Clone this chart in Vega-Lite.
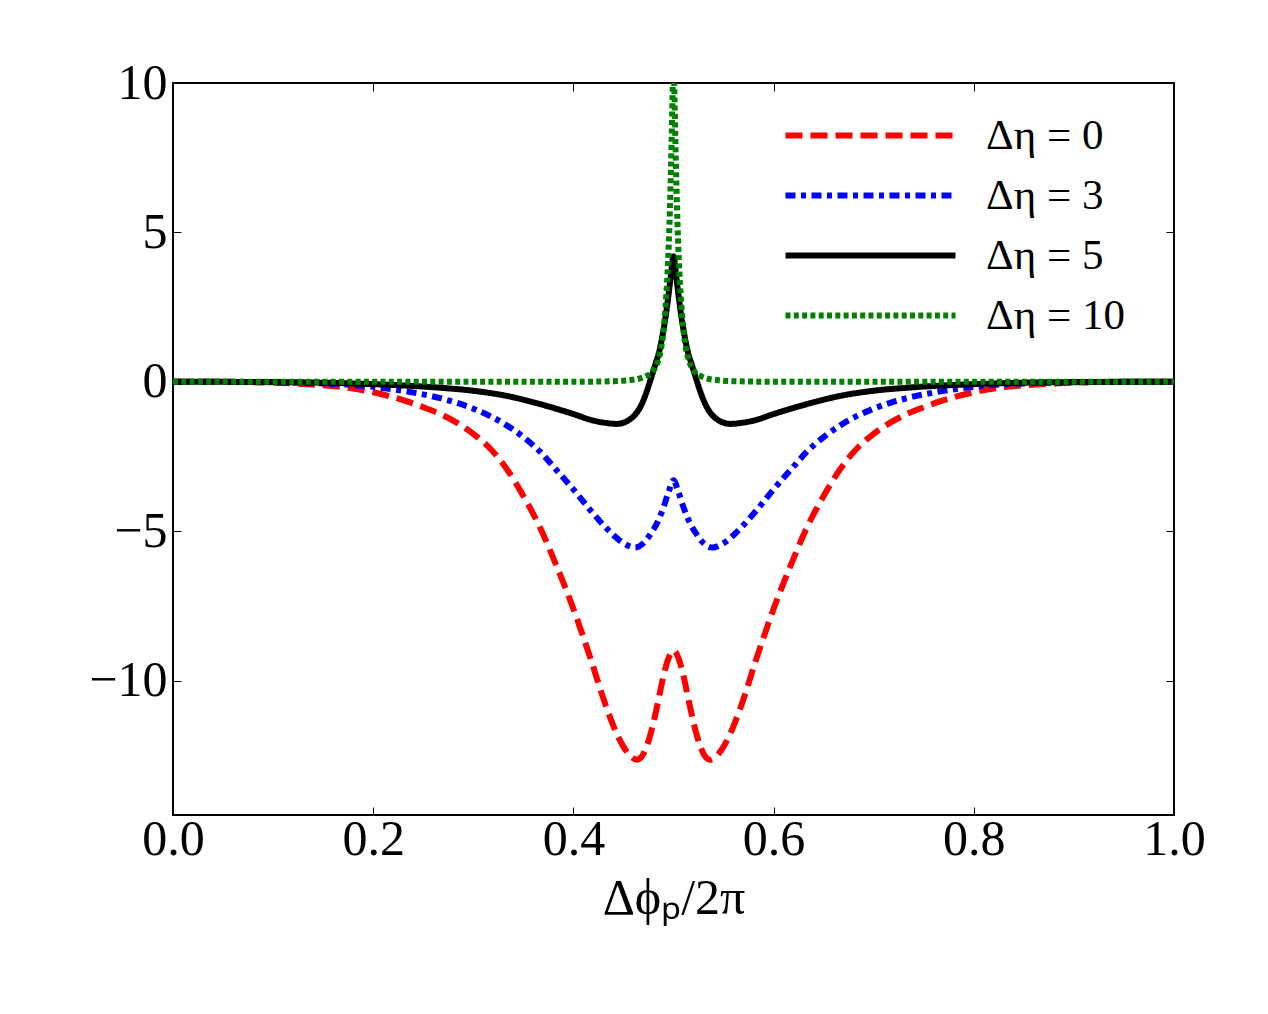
{
  "$schema": "https://vega.github.io/schema/vega-lite/v6.json",
  "width": 1001,
  "height": 732,
  "autosize": "none",
  "padding": {"left": 173, "top": 83, "right": 94, "bottom": 199},
  "background": "white",
  "config": {
    "view": {"stroke": "black", "strokeWidth": 2},
    "font": "Liberation Serif"
  },
  "datasets": {
    "curves": [
      {"x": 0.0, "y": 0, "s": "Δη = 0"},
      {"x": 0.05, "y": 0, "s": "Δη = 0"},
      {"x": 0.1, "y": -0.03, "s": "Δη = 0"},
      {"x": 0.133, "y": -0.08, "s": "Δη = 0"},
      {"x": 0.167, "y": -0.17, "s": "Δη = 0"},
      {"x": 0.2, "y": -0.35, "s": "Δη = 0"},
      {"x": 0.233, "y": -0.65, "s": "Δη = 0"},
      {"x": 0.25, "y": -0.85, "s": "Δη = 0"},
      {"x": 0.267, "y": -1.08, "s": "Δη = 0"},
      {"x": 0.283, "y": -1.36, "s": "Δη = 0"},
      {"x": 0.3, "y": -1.74, "s": "Δη = 0"},
      {"x": 0.317, "y": -2.24, "s": "Δη = 0"},
      {"x": 0.333, "y": -2.9, "s": "Δη = 0"},
      {"x": 0.35, "y": -3.82, "s": "Δη = 0"},
      {"x": 0.367, "y": -4.9, "s": "Δη = 0"},
      {"x": 0.383, "y": -6.15, "s": "Δη = 0"},
      {"x": 0.4, "y": -7.6, "s": "Δη = 0"},
      {"x": 0.417, "y": -9.25, "s": "Δη = 0"},
      {"x": 0.433, "y": -10.9, "s": "Δη = 0"},
      {"x": 0.445, "y": -11.9, "s": "Δη = 0"},
      {"x": 0.455, "y": -12.45, "s": "Δη = 0"},
      {"x": 0.4635, "y": -12.65, "s": "Δη = 0"},
      {"x": 0.47, "y": -12.45, "s": "Δη = 0"},
      {"x": 0.477, "y": -11.8, "s": "Δη = 0"},
      {"x": 0.484, "y": -10.8, "s": "Δη = 0"},
      {"x": 0.49, "y": -9.85, "s": "Δη = 0"},
      {"x": 0.495, "y": -9.25, "s": "Δη = 0"},
      {"x": 0.5, "y": -9.0, "s": "Δη = 0"},
      {"x": 0.505, "y": -9.25, "s": "Δη = 0"},
      {"x": 0.51, "y": -9.85, "s": "Δη = 0"},
      {"x": 0.516, "y": -10.8, "s": "Δη = 0"},
      {"x": 0.523, "y": -11.8, "s": "Δη = 0"},
      {"x": 0.53, "y": -12.45, "s": "Δη = 0"},
      {"x": 0.5365, "y": -12.65, "s": "Δη = 0"},
      {"x": 0.545, "y": -12.45, "s": "Δη = 0"},
      {"x": 0.555, "y": -11.9, "s": "Δη = 0"},
      {"x": 0.567, "y": -10.9, "s": "Δη = 0"},
      {"x": 0.583, "y": -9.25, "s": "Δη = 0"},
      {"x": 0.6, "y": -7.6, "s": "Δη = 0"},
      {"x": 0.617, "y": -6.15, "s": "Δη = 0"},
      {"x": 0.633, "y": -4.9, "s": "Δη = 0"},
      {"x": 0.65, "y": -3.82, "s": "Δη = 0"},
      {"x": 0.667, "y": -2.9, "s": "Δη = 0"},
      {"x": 0.683, "y": -2.24, "s": "Δη = 0"},
      {"x": 0.7, "y": -1.74, "s": "Δη = 0"},
      {"x": 0.717, "y": -1.36, "s": "Δη = 0"},
      {"x": 0.733, "y": -1.08, "s": "Δη = 0"},
      {"x": 0.75, "y": -0.85, "s": "Δη = 0"},
      {"x": 0.767, "y": -0.65, "s": "Δη = 0"},
      {"x": 0.8, "y": -0.35, "s": "Δη = 0"},
      {"x": 0.833, "y": -0.17, "s": "Δη = 0"},
      {"x": 0.867, "y": -0.08, "s": "Δη = 0"},
      {"x": 0.9, "y": -0.03, "s": "Δη = 0"},
      {"x": 0.95, "y": 0, "s": "Δη = 0"},
      {"x": 1.0, "y": 0, "s": "Δη = 0"},

      {"x": 0.0, "y": 0, "s": "Δη = 3"},
      {"x": 0.05, "y": 0, "s": "Δη = 3"},
      {"x": 0.1, "y": -0.02, "s": "Δη = 3"},
      {"x": 0.167, "y": -0.08, "s": "Δη = 3"},
      {"x": 0.2, "y": -0.17, "s": "Δη = 3"},
      {"x": 0.233, "y": -0.32, "s": "Δη = 3"},
      {"x": 0.267, "y": -0.55, "s": "Δη = 3"},
      {"x": 0.3, "y": -0.9, "s": "Δη = 3"},
      {"x": 0.333, "y": -1.45, "s": "Δη = 3"},
      {"x": 0.35, "y": -1.85, "s": "Δη = 3"},
      {"x": 0.367, "y": -2.35, "s": "Δη = 3"},
      {"x": 0.383, "y": -2.95, "s": "Δη = 3"},
      {"x": 0.4, "y": -3.6, "s": "Δη = 3"},
      {"x": 0.417, "y": -4.3, "s": "Δη = 3"},
      {"x": 0.433, "y": -4.9, "s": "Δη = 3"},
      {"x": 0.45, "y": -5.4, "s": "Δη = 3"},
      {"x": 0.4615, "y": -5.55, "s": "Δη = 3"},
      {"x": 0.47, "y": -5.4, "s": "Δη = 3"},
      {"x": 0.477, "y": -5.1, "s": "Δη = 3"},
      {"x": 0.484, "y": -4.7, "s": "Δη = 3"},
      {"x": 0.49, "y": -4.2, "s": "Δη = 3"},
      {"x": 0.495, "y": -3.7, "s": "Δη = 3"},
      {"x": 0.5, "y": -3.3, "s": "Δη = 3"},
      {"x": 0.505, "y": -3.7, "s": "Δη = 3"},
      {"x": 0.51, "y": -4.2, "s": "Δη = 3"},
      {"x": 0.516, "y": -4.7, "s": "Δη = 3"},
      {"x": 0.523, "y": -5.1, "s": "Δη = 3"},
      {"x": 0.53, "y": -5.4, "s": "Δη = 3"},
      {"x": 0.5385, "y": -5.55, "s": "Δη = 3"},
      {"x": 0.55, "y": -5.4, "s": "Δη = 3"},
      {"x": 0.567, "y": -4.9, "s": "Δη = 3"},
      {"x": 0.583, "y": -4.3, "s": "Δη = 3"},
      {"x": 0.6, "y": -3.6, "s": "Δη = 3"},
      {"x": 0.617, "y": -2.95, "s": "Δη = 3"},
      {"x": 0.633, "y": -2.35, "s": "Δη = 3"},
      {"x": 0.65, "y": -1.85, "s": "Δη = 3"},
      {"x": 0.667, "y": -1.45, "s": "Δη = 3"},
      {"x": 0.7, "y": -0.9, "s": "Δη = 3"},
      {"x": 0.733, "y": -0.55, "s": "Δη = 3"},
      {"x": 0.767, "y": -0.32, "s": "Δη = 3"},
      {"x": 0.8, "y": -0.17, "s": "Δη = 3"},
      {"x": 0.833, "y": -0.08, "s": "Δη = 3"},
      {"x": 0.9, "y": -0.02, "s": "Δη = 3"},
      {"x": 0.95, "y": 0, "s": "Δη = 3"},
      {"x": 1.0, "y": 0, "s": "Δη = 3"},

      {"x": 0.0, "y": 0, "s": "Δη = 5"},
      {"x": 0.1, "y": -0.01, "s": "Δη = 5"},
      {"x": 0.2, "y": -0.08, "s": "Δη = 5"},
      {"x": 0.267, "y": -0.2, "s": "Δη = 5"},
      {"x": 0.3, "y": -0.3, "s": "Δη = 5"},
      {"x": 0.333, "y": -0.47, "s": "Δη = 5"},
      {"x": 0.367, "y": -0.75, "s": "Δη = 5"},
      {"x": 0.4, "y": -1.08, "s": "Δη = 5"},
      {"x": 0.42, "y": -1.3, "s": "Δη = 5"},
      {"x": 0.433, "y": -1.38, "s": "Δη = 5"},
      {"x": 0.443, "y": -1.41, "s": "Δη = 5"},
      {"x": 0.45, "y": -1.37, "s": "Δη = 5"},
      {"x": 0.455, "y": -1.29, "s": "Δη = 5"},
      {"x": 0.46, "y": -1.16, "s": "Δη = 5"},
      {"x": 0.464, "y": -1.0, "s": "Δη = 5"},
      {"x": 0.4675, "y": -0.8, "s": "Δη = 5"},
      {"x": 0.471, "y": -0.53, "s": "Δη = 5"},
      {"x": 0.4745, "y": -0.2, "s": "Δη = 5"},
      {"x": 0.478, "y": 0.17, "s": "Δη = 5"},
      {"x": 0.482, "y": 0.6, "s": "Δη = 5"},
      {"x": 0.486, "y": 1.05, "s": "Δη = 5"},
      {"x": 0.489, "y": 1.55, "s": "Δη = 5"},
      {"x": 0.492, "y": 2.15, "s": "Δη = 5"},
      {"x": 0.495, "y": 2.9, "s": "Δη = 5"},
      {"x": 0.4975, "y": 3.6, "s": "Δη = 5"},
      {"x": 0.5, "y": 4.2, "s": "Δη = 5"},
      {"x": 0.5025, "y": 3.6, "s": "Δη = 5"},
      {"x": 0.505, "y": 2.9, "s": "Δη = 5"},
      {"x": 0.508, "y": 2.15, "s": "Δη = 5"},
      {"x": 0.511, "y": 1.55, "s": "Δη = 5"},
      {"x": 0.514, "y": 1.05, "s": "Δη = 5"},
      {"x": 0.518, "y": 0.6, "s": "Δη = 5"},
      {"x": 0.522, "y": 0.17, "s": "Δη = 5"},
      {"x": 0.5255, "y": -0.2, "s": "Δη = 5"},
      {"x": 0.529, "y": -0.53, "s": "Δη = 5"},
      {"x": 0.5325, "y": -0.8, "s": "Δη = 5"},
      {"x": 0.536, "y": -1.0, "s": "Δη = 5"},
      {"x": 0.54, "y": -1.16, "s": "Δη = 5"},
      {"x": 0.545, "y": -1.29, "s": "Δη = 5"},
      {"x": 0.55, "y": -1.37, "s": "Δη = 5"},
      {"x": 0.557, "y": -1.41, "s": "Δη = 5"},
      {"x": 0.567, "y": -1.38, "s": "Δη = 5"},
      {"x": 0.58, "y": -1.3, "s": "Δη = 5"},
      {"x": 0.6, "y": -1.08, "s": "Δη = 5"},
      {"x": 0.633, "y": -0.75, "s": "Δη = 5"},
      {"x": 0.667, "y": -0.47, "s": "Δη = 5"},
      {"x": 0.7, "y": -0.3, "s": "Δη = 5"},
      {"x": 0.733, "y": -0.2, "s": "Δη = 5"},
      {"x": 0.8, "y": -0.08, "s": "Δη = 5"},
      {"x": 0.9, "y": -0.01, "s": "Δη = 5"},
      {"x": 1.0, "y": 0, "s": "Δη = 5"},

      {"x": 0.0, "y": 0, "s": "Δη = 10"},
      {"x": 0.1, "y": 0, "s": "Δη = 10"},
      {"x": 0.2, "y": 0, "s": "Δη = 10"},
      {"x": 0.3, "y": 0, "s": "Δη = 10"},
      {"x": 0.4, "y": 0, "s": "Δη = 10"},
      {"x": 0.44, "y": 0.02, "s": "Δη = 10"},
      {"x": 0.455, "y": 0.05, "s": "Δη = 10"},
      {"x": 0.465, "y": 0.1, "s": "Δη = 10"},
      {"x": 0.472, "y": 0.18, "s": "Δη = 10"},
      {"x": 0.478, "y": 0.3, "s": "Δη = 10"},
      {"x": 0.482, "y": 0.5, "s": "Δη = 10"},
      {"x": 0.485, "y": 0.75, "s": "Δη = 10"},
      {"x": 0.488, "y": 1.2, "s": "Δη = 10"},
      {"x": 0.49, "y": 1.7, "s": "Δη = 10"},
      {"x": 0.492, "y": 2.5, "s": "Δη = 10"},
      {"x": 0.494, "y": 3.6, "s": "Δη = 10"},
      {"x": 0.496, "y": 5.3, "s": "Δη = 10"},
      {"x": 0.498, "y": 7.9, "s": "Δη = 10"},
      {"x": 0.499, "y": 9.5, "s": "Δη = 10"},
      {"x": 0.5, "y": 11, "s": "Δη = 10"},
      {"x": 0.501, "y": 9.5, "s": "Δη = 10"},
      {"x": 0.502, "y": 7.9, "s": "Δη = 10"},
      {"x": 0.504, "y": 5.3, "s": "Δη = 10"},
      {"x": 0.506, "y": 3.6, "s": "Δη = 10"},
      {"x": 0.508, "y": 2.5, "s": "Δη = 10"},
      {"x": 0.51, "y": 1.7, "s": "Δη = 10"},
      {"x": 0.512, "y": 1.2, "s": "Δη = 10"},
      {"x": 0.515, "y": 0.75, "s": "Δη = 10"},
      {"x": 0.518, "y": 0.5, "s": "Δη = 10"},
      {"x": 0.522, "y": 0.3, "s": "Δη = 10"},
      {"x": 0.528, "y": 0.18, "s": "Δη = 10"},
      {"x": 0.535, "y": 0.1, "s": "Δη = 10"},
      {"x": 0.545, "y": 0.05, "s": "Δη = 10"},
      {"x": 0.56, "y": 0.02, "s": "Δη = 10"},
      {"x": 0.6, "y": 0, "s": "Δη = 10"},
      {"x": 0.7, "y": 0, "s": "Δη = 10"},
      {"x": 0.8, "y": 0, "s": "Δη = 10"},
      {"x": 0.9, "y": 0, "s": "Δη = 10"},
      {"x": 1.0, "y": 0, "s": "Δη = 10"}
    ]
  },
  "data": {"name": "curves"},
  "layer": [
    {
      "mark": {"type": "line", "clip": true, "interpolate": "monotone", "strokeCap": "butt"},
      "encoding": {
        "x": {
          "field": "x", "type": "quantitative",
          "scale": {"domain": [0, 1], "nice": false, "zero": false},
          "axis": {
            "orient": "bottom",
            "values": [0, 0.2, 0.4, 0.6, 0.8, 1.0],
            "format": ".1f",
            "grid": false, "domain": false,
            "tickSize": -8, "tickWidth": 1, "tickColor": "black",
            "labelFont": "Liberation Serif", "labelFontSize": 50, "labelColor": "black",
            "labelPadding": 7, "labelFlush": false, "labelOverlap": false, "labelBound": false,
            "title": "Δϕₚ/2π",
            "titleFont": "Liberation Serif", "titleFontSize": 50, "titleFontWeight": "normal", "titleColor": "black",
            "titlePadding": 9
          }
        },
        "y": {
          "field": "y", "type": "quantitative",
          "scale": {"domain": [-14.5, 10], "nice": false, "zero": false},
          "axis": {
            "orient": "left",
            "values": [-10, -5, 0, 5, 10],
            "format": "d",
            "grid": false, "domain": false,
            "tickSize": -8, "tickWidth": 1, "tickColor": "black",
            "labelFont": "Liberation Serif", "labelFontSize": 50, "labelColor": "black",
            "labelPadding": 14, "labelFlush": false, "labelOverlap": false, "labelBound": false,
            "title": null
          }
        },
        "color": {
          "field": "s", "type": "nominal",
          "scale": {"domain": ["Δη = 0", "Δη = 3", "Δη = 5", "Δη = 10"], "range": ["#ff0000", "#0000ff", "#000000", "#008000"]},
          "legend": {
            "orient": "none", "legendX": 676, "legendY": 31,
            "title": null,
            "symbolType": "M-5,0H5", "symbolSize": 1156,
            "labelFont": "Liberation Serif", "labelFontSize": 43, "labelColor": "black",
            "labelOffset": 94, "rowPadding": 16, "padding": 0,
            "labelLimit": 400
          }
        },
        "strokeDash": {
          "field": "s", "type": "nominal",
          "scale": {"domain": ["Δη = 0", "Δη = 3", "Δη = 5", "Δη = 10"], "range": [[17, 8], [10, 5.5, 5, 5.5], [1, 0], [5, 3.3]]}
        },
        "strokeWidth": {
          "field": "s", "type": "ordinal",
          "scale": {"domain": ["Δη = 0", "Δη = 3", "Δη = 5", "Δη = 10"], "range": [6, 6, 6.5, 5.5]}
        }
      }
    },
    {
      "mark": {"type": "line", "opacity": 0, "clip": true},
      "encoding": {
        "x": {
          "field": "x", "type": "quantitative",
          "axis": {"orient": "top", "values": [0, 0.2, 0.4, 0.6, 0.8, 1.0], "labels": false, "grid": false, "domain": false, "tickSize": -8, "tickWidth": 1, "tickColor": "black", "title": null}
        },
        "y": {
          "field": "y", "type": "quantitative",
          "axis": {"orient": "right", "values": [-10, -5, 0, 5, 10], "labels": false, "grid": false, "domain": false, "tickSize": -8, "tickWidth": 1, "tickColor": "black", "title": null}
        },
        "detail": {"field": "s", "type": "nominal"}
      }
    }
  ],
  "resolve": {"axis": {"x": "independent", "y": "independent"}}
}
